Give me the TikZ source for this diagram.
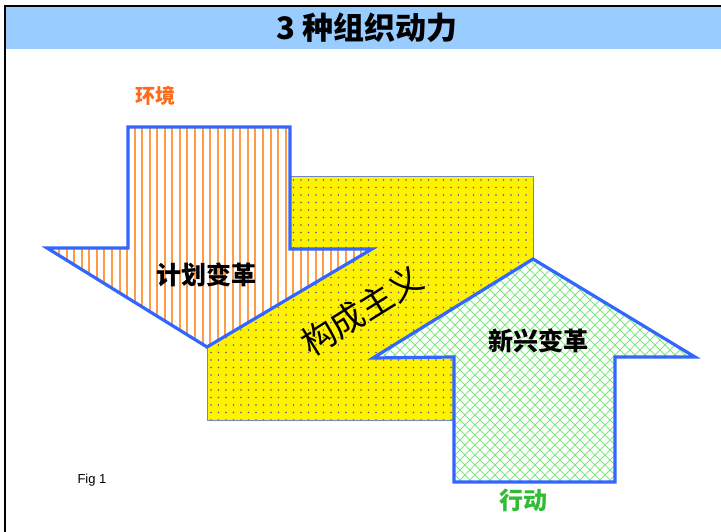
\documentclass[tikz,border=0pt]{standalone}
\usepackage{fontspec}
\setmainfont{Liberation Sans}
\newfontfamily\cjk{Noto Sans CJK SC}
\definecolor{bandblue}{HTML}{99CCFF}
\definecolor{edgeblue}{HTML}{3366FF}
\definecolor{stripeorange}{HTML}{FF9A45}
\definecolor{hatchgreen}{HTML}{7DE87D}
\definecolor{dotgray}{HTML}{5A5A7A}
\definecolor{envorange}{HTML}{FF6A1A}
\definecolor{actgreen}{HTML}{33BB33}
\definecolor{thinedge}{HTML}{7088C8}
\tikzset{
  arrowedge/.style={draw=edgeblue, line width=3.2pt, line join=miter},
  lbl/.style={inner sep=0pt, font=\cjk},
}
\def\orangepath{(128,127) -- (290,127) -- (290,249) -- (372,249) -- (207,347) -- (47,248) -- (128,248) -- cycle}
\def\greenpath{(533,259) -- (695,357) -- (615,357) -- (615,482) -- (454,482) -- (454,357) -- (373,358) -- cycle}
\begin{document}
\begin{tikzpicture}[x=1pt,y=-1pt]
\useasboundingbox (0,0) rectangle (721,532);
% title band and frame
\fill[bandblue] (5,6) rectangle (721,49);
\draw[line width=2.4pt] (5,532) -- (5,6) -- (721,6);
\node[lbl, font=\cjk\bfseries\fontsize{31}{31}\selectfont] (title) at (367,28) {3 种组织动力};
% yellow block
\fill[yellow] (207,176) rectangle (533,420);
\begin{scope}
  \clip (207,176) rectangle (533,420);
  \foreach \i in {0,...,43} {
    \foreach \j in {0,...,32} {
      \fill[dotgray] (211+\i*7.5, 180+\j*7.5) circle (0.95);
    }
  }
\end{scope}
\draw[thinedge, line width=0.9pt] (207,176) rectangle (533,420);
% orange down arrow
\fill[white] \orangepath;
\begin{scope}
  \clip \orangepath;
  \foreach \i in {0,...,44} {
    \draw[stripeorange, line width=2pt] (44+\i*7.55,120) -- (44+\i*7.55,352);
  }
\end{scope}
\draw[arrowedge] \orangepath;
% green up arrow
\fill[white] \greenpath;
\begin{scope}
  \clip \greenpath;
  \foreach \i in {0,...,70} {
    \draw[hatchgreen, line width=1pt] (300+\i*10,250) -- ++(-240,240);
    \draw[hatchgreen, line width=1pt] (100+\i*10,250) -- ++(240,240);
  }
\end{scope}
\draw[arrowedge] \greenpath;
% labels
\node[lbl, text=envorange, font=\cjk\bfseries\fontsize{20}{20}\selectfont] (env) at (155,96) {环境};
\node[lbl, font=\cjk\bfseries\fontsize{25}{25}\selectfont] (plan) at (206,275) {计划变革};
\node[lbl, rotate=32, font=\cjk\fontsize{34}{34}\selectfont] (constr) at (362,311) {构成主义};
\node[lbl, font=\cjk\bfseries\fontsize{25}{25}\selectfont] (emerg) at (538,341) {新兴变革};
\node[lbl, text=actgreen, font=\cjk\bfseries\fontsize{24}{24}\selectfont] (act) at (523,500) {行动};
\node[inner sep=0pt, font=\fontsize{13}{13}\selectfont] (fig) at (92,480) {Fig 1};
\end{tikzpicture}
\end{document}
